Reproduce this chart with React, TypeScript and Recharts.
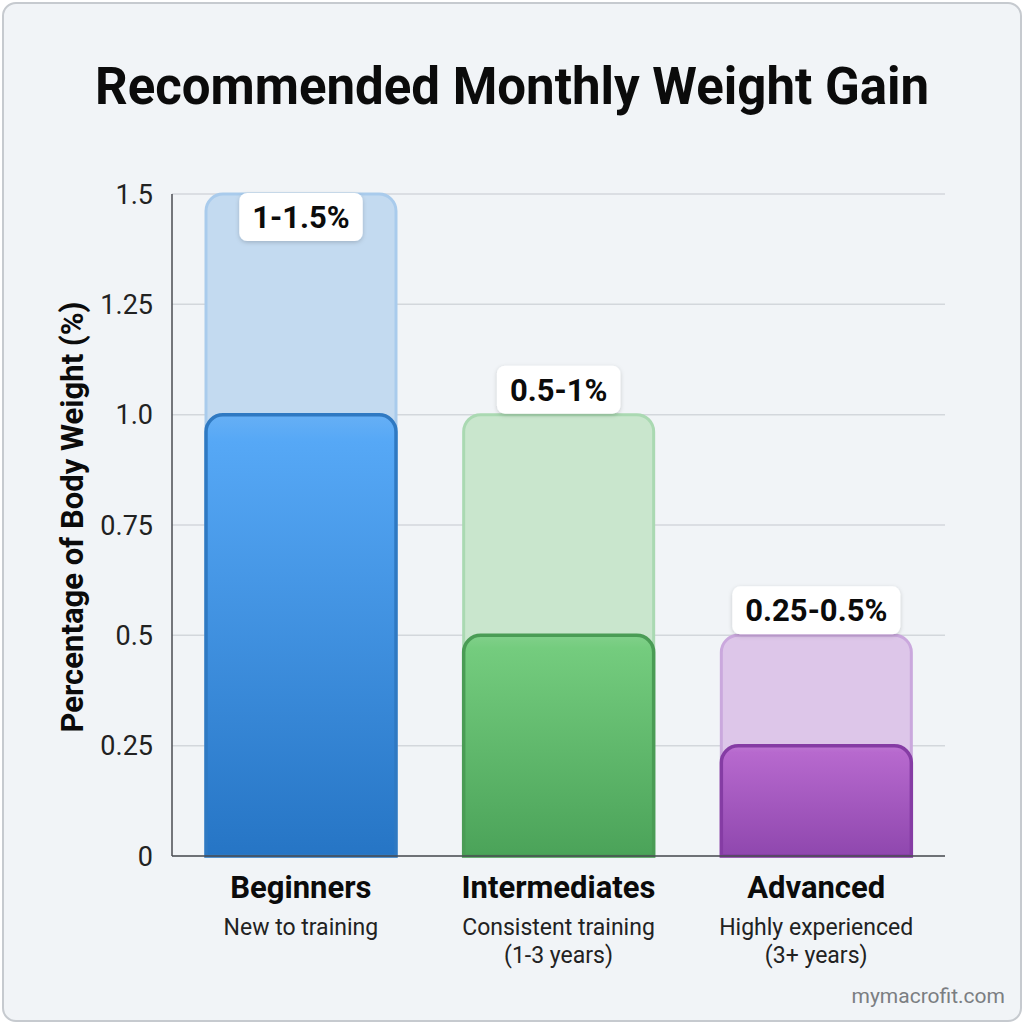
import React from "react";
import { BarChart, Bar, XAxis, YAxis, CartesianGrid, Cell, LabelList } from "recharts";

const categories = ["Beginners", "Intermediates", "Advanced"];
const subtitles = [
  ["New to training"],
  ["Consistent training", "(1-3 years)"],
  ["Highly experienced", "(3+ years)"],
];
const lowGain = [1, 0.5, 0.25];
const highGain = [1.5, 1, 0.5];
const yTicks = [0, 0.25, 0.5, 0.75, 1, 1.25, 1.5];
const yTickLabels = ["0", "0.25", "0.5", "0.75", "1.0", "1.25", "1.5"];

// colours per category: light range bar, its outline, solid gradient top/bottom, solid outline
const lightFill = ["#c3daf0", "#c9e6cd", "#ddc6e9"];
const lightStroke = ["#a9cbec", "#aad9b2", "#caa8dd"];
const solidTop = ["#56a8f6", "#74cc7e", "#b769ce"];
const solidBottom = ["#2675c5", "#4ba359", "#8f47ae"];
const solidStroke = ["#2f79c2", "#4a9c55", "#853ca4"];

const data = categories.map((name, i) => ({ name, low: lowGain[i], high: highGain[i] }));

const FONT = "Roboto, 'Noto Sans', sans-serif";
const MARGIN = { top: 194, right: 79, bottom: 48, left: 72 };

let measureCtx: CanvasRenderingContext2D | null = null;
const textWidth = (text: string, font: string) => {
  if (!measureCtx) measureCtx = document.createElement("canvas").getContext("2d");
  if (!measureCtx) return text.length * 17;
  measureCtx.font = font;
  return measureCtx.measureText(text).width;
};

const RangeLabel = (props: any) => {
  const { x, y, width, index } = props;
  const text = `${lowGain[index]}-${highGain[index]}%`;
  const w = textWidth(text, `700 31px ${FONT}`) + 26;
  const h = 48;
  const cx = x + width / 2;
  const top = Math.max(y - h - 1, MARGIN.top - 1);
  return (
    <g>
      <rect
        x={cx - w / 2}
        y={top}
        width={w}
        height={h}
        rx={8}
        fill="#ffffff"
        filter="url(#labelShadow)"
      />
      <text
        x={cx}
        y={top + h / 2 + 11}
        textAnchor="middle"
        fontFamily={FONT}
        fontSize={31}
        fontWeight={700}
        fill="#0b0b0b"
      >
        {text}
      </text>
    </g>
  );
};

const CategoryTick = (props: any) => {
  const { x, y, payload } = props;
  const i = categories.indexOf(payload.value);
  return (
    <g transform={`translate(${x},${y})`}>
      <text textAnchor="middle" y={42} fontFamily={FONT} fontSize={31} fontWeight={700} fill="#0b0b0b">
        {payload.value}
      </text>
      {subtitles[i].map((line, k) => (
        <text key={k} textAnchor="middle" y={79 + k * 28} fontFamily={FONT} fontSize={23} fill="#222">
          {line}
        </text>
      ))}
    </g>
  );
};

export default function App() {
  return (
    <div style={{ position: "absolute", left: 0, top: 0, width: 1024, height: 1024, background: "#ffffff" }}>
      <div
        style={{
          position: "absolute",
          left: 2,
          top: 2,
          width: 1016,
          height: 1016,
          border: "2px solid #c6cacf",
          borderRadius: 14,
          background: "#f1f4f7",
        }}
      />
      <div style={{ position: "absolute", left: 0, top: 0 }}>
        <BarChart
          width={1024}
          height={1024}
          data={data}
          margin={MARGIN}
          barSize={190}
          barGap={-190}
        >
          <CartesianGrid vertical={false} stroke="#d3d7dc" strokeWidth={1.5} />
          <XAxis
            dataKey="name"
            height={120}
            axisLine={{ stroke: "#4a4d52", strokeWidth: 1.5 }}
            tickLine={false}
            tickSize={0}
            tickMargin={0}
            interval={0}
            tick={<CategoryTick />}
          />
          <YAxis
            width={100}
            domain={[0, 1.5]}
            ticks={yTicks}
            tickFormatter={(v: number) => yTickLabels[yTicks.indexOf(v)]}
            axisLine={{ stroke: "#4a4d52", strokeWidth: 1.5 }}
            tickLine={false}
            tickSize={0}
            tickMargin={19}
            tick={{ fontFamily: FONT, fontSize: 27, fill: "#222" }}
          />
          <Bar dataKey="high" radius={[17, 17, 0, 0]} isAnimationActive={false}>
            {data.map((_d, i) => (
              <Cell key={`light-${i}`} fill={lightFill[i]} stroke={lightStroke[i]} strokeWidth={3} />
            ))}
            <LabelList dataKey="high" content={<RangeLabel />} />
          </Bar>
          <Bar dataKey="low" radius={[17, 17, 0, 0]} isAnimationActive={false}>
            {data.map((_d, i) => (
              <Cell key={`solid-${i}`} fill={`url(#solid-${i})`} stroke={solidStroke[i]} strokeWidth={3.5} />
            ))}
          </Bar>
        </BarChart>
      </div>
      <svg
        width={1024}
        height={1024}
        style={{ position: "absolute", left: 0, top: 0, pointerEvents: "none" }}
      >
        <defs>
          {categories.map((_c, i) => (
            <linearGradient key={i} id={`solid-${i}`} x1="0" y1="0" x2="0" y2="1">
              <stop offset="0%" stopColor={solidTop[i]} stopOpacity={0.85} />
              <stop offset="6%" stopColor={solidTop[i]} />
              <stop offset="100%" stopColor={solidBottom[i]} />
            </linearGradient>
          ))}
          <filter id="labelShadow" x="-20%" y="-30%" width="140%" height="170%">
            <feDropShadow dx="0" dy="1.5" stdDeviation="2" floodColor="#000" floodOpacity="0.18" />
          </filter>
        </defs>
        <text x={512} y={104} textAnchor="middle" fontFamily={FONT} fontSize={51} fontWeight={700} fill="#0b0b0b">
          Recommended Monthly Weight Gain
        </text>
        <text
          transform="translate(83,517) rotate(-90)"
          textAnchor="middle"
          fontFamily={FONT}
          fontSize={31}
          fontWeight={700}
          fill="#0b0b0b"
        >
          Percentage of Body Weight (%)
        </text>
        <text x={1005} y={1003} textAnchor="end" fontFamily={FONT} fontSize={21} fill="#7b7e82">
          mymacrofit.com
        </text>
      </svg>
    </div>
  );
}
